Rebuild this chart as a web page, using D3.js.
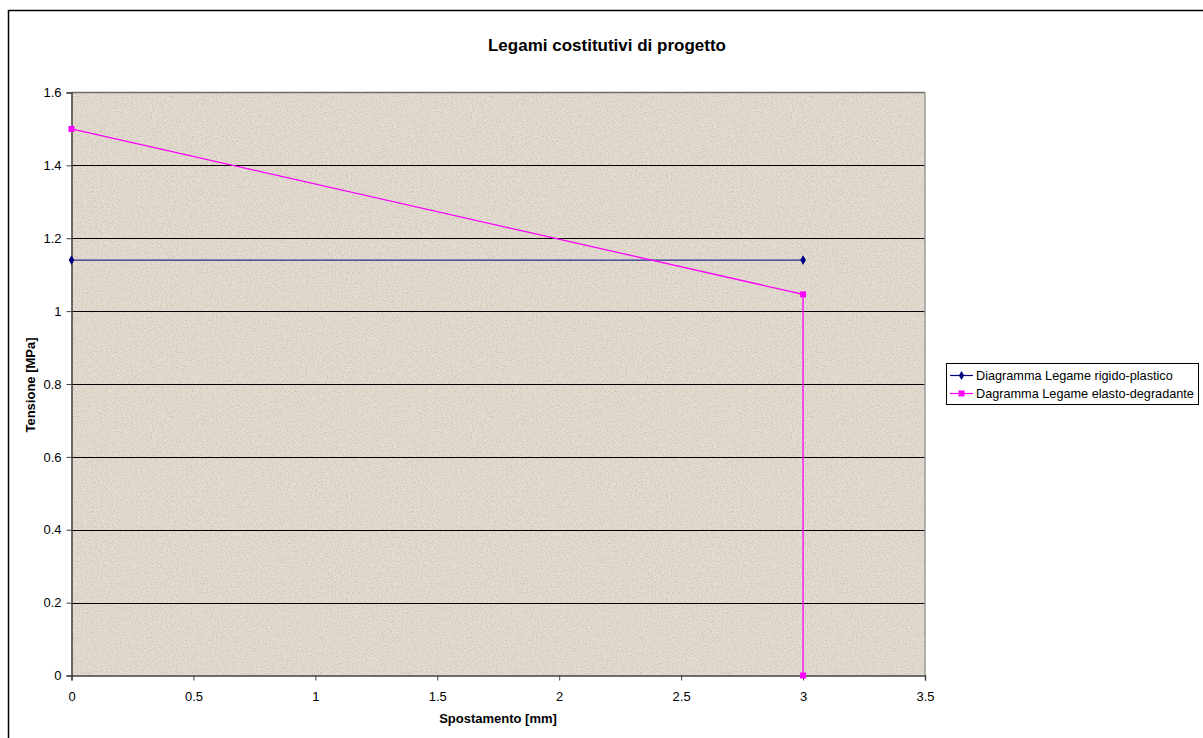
<!DOCTYPE html>
<html><head><meta charset="utf-8">
<script src="https://cdn.jsdelivr.net/npm/d3@7"></script>
<style>body{margin:0;background:#fff;} text{font-family:"Liberation Sans",Arial,sans-serif;}</style>
</head><body>
<svg id="c" width="1203" height="738"></svg>
<script>
const xTicks = [0, 0.5, 1, 1.5, 2, 2.5, 3, 3.5];
const yTicks = [0, 0.2, 0.4, 0.6, 0.8, 1, 1.2, 1.4, 1.6];
const seriesNames = ["Diagramma Legame rigido-plastico", "Dagramma Legame elasto-degradante"];
const rigidX = [0, 3];
const rigidY = [1.14, 1.14];
const elastoX = [0, 3, 3];
const elastoY = [1.5, 1.046, 0];

const svg = d3.select("#c");
const defs = svg.append("defs");
const f = defs.append("filter").attr("id","tex").attr("x",0).attr("y",0).attr("width","100%").attr("height","100%");
f.append("feTurbulence").attr("type","fractalNoise").attr("baseFrequency",0.8).attr("numOctaves",2).attr("seed",3).attr("result","n");
f.append("feColorMatrix").attr("in","n").attr("type","matrix")
  .attr("values","0 0 0 0 0.55  0 0 0 0 0.50  0 0 0 0 0.43  0 0 0 -2.2 1.2").attr("result","m");
f.append("feComposite").attr("in","m").attr("in2","SourceGraphic").attr("operator","in");

// outer chart border
svg.append("rect").attr("x",8.5).attr("y",10.5).attr("width",1210).attr("height",740)
  .attr("fill","none").attr("stroke","#000").attr("stroke-width",1.5);

const L = 71.5, R = 925, T = 92.5, B = 675.5;
const x = d3.scaleLinear().domain([0,3.5]).range([L,R]);
const y = d3.scaleLinear().domain([0,1.6]).range([B,T]);

svg.append("rect").attr("x",L).attr("y",T).attr("width",R-L).attr("height",B-T).attr("fill","#e4dcd0");
svg.append("rect").attr("x",L).attr("y",T).attr("width",R-L).attr("height",B-T).attr("fill","#e4dcd0").attr("filter","url(#tex)");

// gridlines
svg.append("g").selectAll("line").data(yTicks.filter(d=>d>0 && d<1.6)).join("line")
  .attr("x1",L).attr("x2",R).attr("y1",d=>Math.round(y(d))+0.5).attr("y2",d=>Math.round(y(d))+0.5)
  .attr("stroke","#000").attr("stroke-width",1);
// top and right borders
svg.append("line").attr("x1",L).attr("x2",R).attr("y1",T).attr("y2",T).attr("stroke","#6e6e6e").attr("stroke-width",1.5);
svg.append("line").attr("x1",R).attr("x2",R).attr("y1",T).attr("y2",B).attr("stroke","#9a9a9a").attr("stroke-width",1.5);

// axes
const xa = svg.append("g").attr("transform",`translate(0,${B})`)
  .call(d3.axisBottom(x).tickValues(xTicks).tickSize(5).tickPadding(11).tickFormat(d3.format("")));
const ya = svg.append("g").attr("transform",`translate(${L},0)`)
  .call(d3.axisLeft(y).tickValues(yTicks).tickSize(5).tickPadding(5).tickFormat(d3.format("")));
[xa,ya].forEach(g=>{
  g.selectAll("path").attr("stroke","#404040").attr("stroke-width",1.5);
  g.selectAll("line").attr("stroke","#404040");
  g.selectAll("text").attr("font-size",13).attr("fill","#000").attr("font-family","Liberation Sans, Arial, sans-serif");
});

// series
const line = d3.line().x(d=>x(d[0])).y(d=>y(d[1]));
const rigid = rigidX.map((v,i)=>[v,rigidY[i]]);
const elasto = elastoX.map((v,i)=>[v,elastoY[i]]);
svg.append("path").datum(rigid).attr("d",line).attr("fill","none").attr("stroke","#000080").attr("stroke-width",1);
svg.append("path").datum(elasto).attr("d",line).attr("fill","none").attr("stroke","#ff00ff").attr("stroke-width",1.3);
svg.append("g").selectAll("path").data(rigid).join("path")
  .attr("d",d3.symbol(d3.symbolDiamond,28)).attr("transform",d=>`translate(${x(d[0])},${y(d[1])})`).attr("fill","#000080");
svg.append("g").selectAll("rect").data(elasto).join("rect")
  .attr("x",d=>x(d[0])-3).attr("y",d=>y(d[1])-3).attr("width",6).attr("height",6).attr("fill","#ff00ff");

// title & axis titles
svg.append("text").attr("x",607).attr("y",51).attr("text-anchor","middle").attr("font-size",17).attr("font-weight","bold").text("Legami costitutivi di progetto");
svg.append("text").attr("x",498).attr("y",723).attr("text-anchor","middle").attr("font-size",13).attr("font-weight","bold").text("Spostamento [mm]");
svg.append("text").attr("transform","translate(35,385) rotate(-90)").attr("text-anchor","middle").attr("font-size",13).attr("font-weight","bold").text("Tensione [MPa]");

// legend
const lg = svg.append("g");
lg.append("rect").attr("x",946.5).attr("y",363.5).attr("width",252).attr("height",41).attr("fill","#fff").attr("stroke","#000").attr("stroke-width",1);
const colors = ["#000080","#ff00ff"];
seriesNames.forEach((n,i)=>{
  const yy = 375.5 + i*18;
  lg.append("line").attr("x1",950).attr("x2",973).attr("y1",yy).attr("y2",yy).attr("stroke",colors[i]).attr("stroke-width",1.2);
  if(i===0) lg.append("path").attr("d",d3.symbol(d3.symbolDiamond,24)).attr("transform",`translate(961.5,${yy})`).attr("fill",colors[i]);
  else lg.append("rect").attr("x",958.5).attr("y",yy-3).attr("width",6).attr("height",6).attr("fill",colors[i]);
  lg.append("text").attr("x",976).attr("y",yy+4.5).attr("font-size",12.7).text(n);
});
</script>
</body></html>
